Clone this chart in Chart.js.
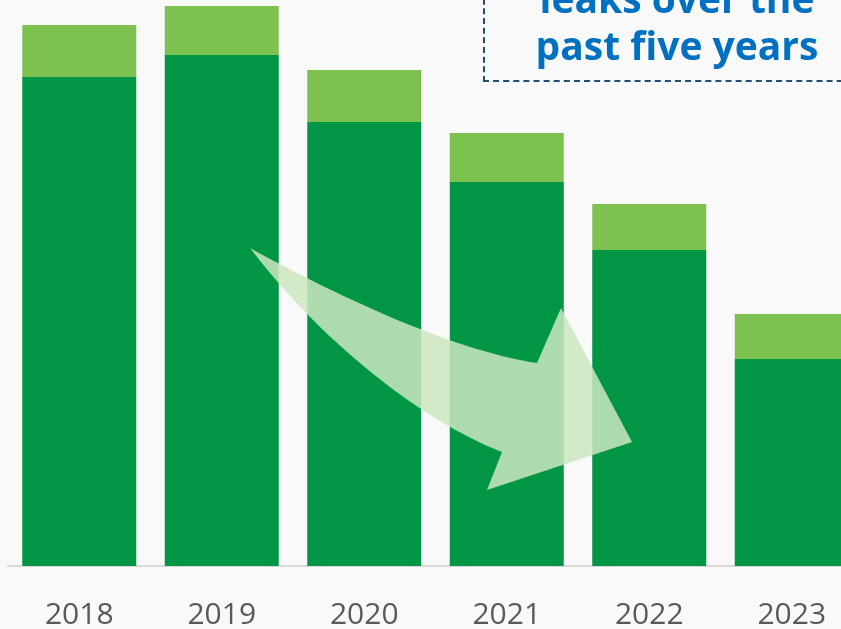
<!DOCTYPE html>
<html lang="en">
<head>
    <meta charset="UTF-8">
    <title>Leaks per year</title>
    <script src="https://cdn.jsdelivr.net/npm/chart.js"></script>
    <style>
        html, body {
            margin: 0;
            padding: 0;
            background: #f9f9f9;
            overflow: hidden;
        }
        .wrap {
            position: relative;
            width: 841px;
            height: 629px;
            overflow: hidden;
        }
        #leakChart {
            position: absolute;
            left: 0;
            top: 0;
        }
        .callout {
            position: absolute;
            left: 483px;
            top: -40px;
            width: 390px;
            height: 122px;
            border: 2px dashed #1f4e79;
            box-sizing: border-box;
            color: #0070c0;
            font-family: "Open Sans", sans-serif;
            font-weight: 700;
            font-size: 39px;
            line-height: 47px;
            text-align: center;
            padding-top: 12px;
            padding-right: 2px;
        }
    </style>
</head>
<body>
    <div class="wrap">
        <canvas id="leakChart" width="870" height="664"></canvas>
        <div class="callout" id="callout"></div>
    </div>
    <script>
        const years = ['2018', '2019', '2020', '2021', '2022', '2023'];
        const lowerPart = [489, 511, 444, 384, 316, 207];
        const upperPart = [52, 49, 52, 49, 46, 45];
        const calloutLines = ['leaks over the', 'past five years'];

        document.getElementById('callout').innerHTML = calloutLines.join('<br>');

        // big translucent arrow drawn over the bars
        const arrowPlugin = {
            id: 'arrow',
            afterDatasetsDraw(chart) {
                const ctx = chart.ctx;
                ctx.save();
                ctx.fillStyle = 'rgba(204, 231, 191, 0.85)';
                ctx.beginPath();
                ctx.moveTo(250, 248);
                ctx.bezierCurveTo(330, 292, 450, 350, 537, 363);
                ctx.lineTo(561, 308);
                ctx.lineTo(632, 442);
                ctx.lineTo(487, 490);
                ctx.lineTo(502, 452);
                ctx.bezierCurveTo(420, 420, 320, 340, 250, 248);
                ctx.closePath();
                ctx.fill();
                ctx.restore();
            }
        };

        const ctx = document.getElementById('leakChart').getContext('2d');
        const leakChart = new Chart(ctx, {
            type: 'bar',
            data: {
                labels: years,
                datasets: [
                    {
                        label: 'Leaks',
                        data: lowerPart,
                        backgroundColor: '#009646',
                        barPercentage: 0.8,
                        categoryPercentage: 1.0
                    },
                    {
                        label: 'Other leaks',
                        data: upperPart,
                        backgroundColor: '#7dc251',
                        barPercentage: 0.8,
                        categoryPercentage: 1.0
                    }
                ]
            },
            options: {
                responsive: false,
                animation: false,
                layout: {
                    padding: { left: 8, right: 7, top: 0, bottom: 0 }
                },
                plugins: {
                    legend: { display: false },
                    tooltip: { enabled: false }
                },
                scales: {
                    x: {
                        stacked: true,
                        grid: { display: false, drawTicks: false },
                        border: { display: true, color: '#d9d9d9', width: 2 },
                        ticks: {
                            color: '#595959',
                            padding: 31,
                            font: { family: 'Open Sans', size: 30 }
                        }
                    },
                    y: {
                        stacked: true,
                        display: false,
                        min: 0,
                        max: 566
                    }
                }
            },
            plugins: [arrowPlugin]
        });
    </script>
</body>
</html>
